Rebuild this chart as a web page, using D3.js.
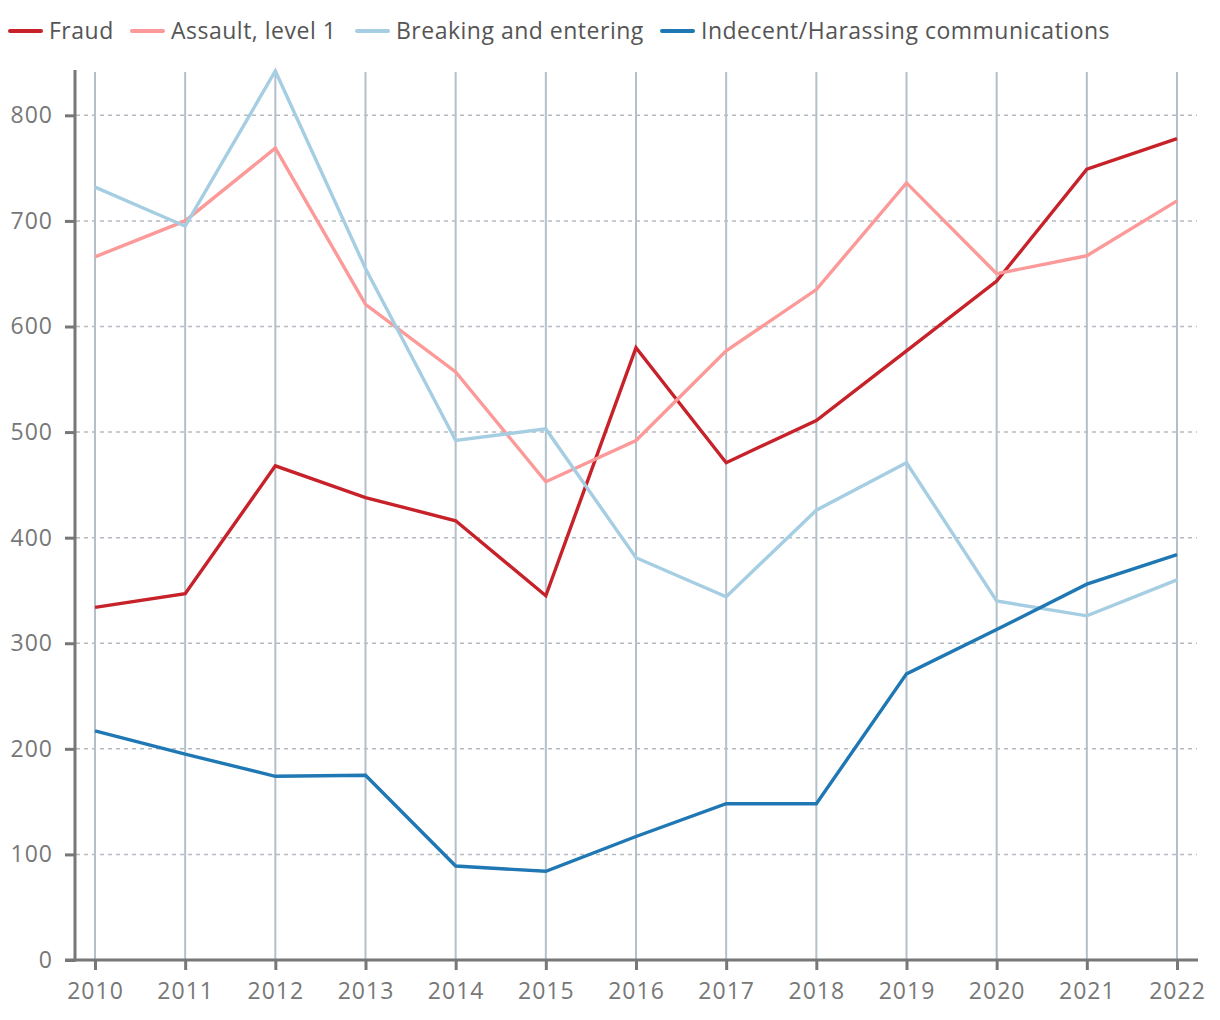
<!DOCTYPE html>
<html>
<head>
<meta charset="utf-8">
<script src="https://cdn.jsdelivr.net/npm/d3@7"></script>
<style>
  body { margin: 0; background: #fff; }
  svg text { font-family: "Open Sans", "Noto Sans", sans-serif; }
</style>
</head>
<body>
<svg id="chart" width="1220" height="1020"></svg>
<script>
// data
const years = [2010, 2011, 2012, 2013, 2014, 2015, 2016, 2017, 2018, 2019, 2020, 2021, 2022];
const seriesNames = ["Fraud", "Assault, level 1", "Breaking and entering", "Indecent/Harassing communications"];
const fraud = [334, 347, 468, 438, 416, 345, 580, 471, 511, 577, 643, 749, 778];
const assault = [666, 700, 769, 621, 557, 453, 492, 577, 635, 736, 650, 667, 719];
const breaking = [732, 695, 842, 655, 492, 503, 381, 344, 426, 471, 340, 326, 360];
const indecent = [217, 195, 174, 175, 89, 84, 117, 148, 148, 271, 313, 356, 384];
const yTicks = [0, 100, 200, 300, 400, 500, 600, 700, 800];

const colors = ["#c7222a", "#fb9a99", "#a6cee3", "#1f78b4"];
const allSeries = [fraud, assault, breaking, indecent];

const svg = d3.select("svg#chart");
const axisColor = "#777";
const gridColor = "#b4c0c9";

// scales
const x = d3.scaleLinear().domain([2010, 2022]).range([95, 1177]);
const y = d3.scaleLinear().domain([0, 842]).range([960, 71]);

// horizontal dashed gridlines
svg.append("g")
    .selectAll("line")
    .data(yTicks.filter(d => d > 0))
    .join("line")
    .attr("x1", 76)
    .attr("x2", 1197)
    .attr("y1", d => y(d))
    .attr("y2", d => y(d))
    .attr("stroke", "#b3bac1")
    .attr("stroke-width", 1.5)
    .attr("stroke-dasharray", "4,4");

// vertical gridlines
svg.append("g")
    .selectAll("line")
    .data(years)
    .join("line")
    .attr("x1", d => x(d))
    .attr("x2", d => x(d))
    .attr("y1", 72)
    .attr("y2", 960)
    .attr("stroke", gridColor)
    .attr("stroke-width", 2);

// lines
const line = d3.line()
    .x((d, i) => x(years[i]))
    .y(d => y(d));

svg.append("g")
    .selectAll("path")
    .data(allSeries)
    .join("path")
    .attr("d", d => line(d))
    .attr("fill", "none")
    .attr("stroke", (d, i) => colors[i])
    .attr("stroke-width", 3.4)
    .attr("stroke-linejoin", "miter");

// y axis
const leftAxis = d3.axisLeft(y).tickValues(yTicks).tickSize(10).tickPadding(12);
const gy = svg.append("g")
    .attr("transform", "translate(75,0)")
    .call(leftAxis);
gy.select(".domain").remove();
gy.selectAll(".tick line").attr("stroke", axisColor).attr("stroke-width", 3);
gy.selectAll(".tick text")
    .attr("fill", axisColor)
    .style("font-size", "23px")
    .style("letter-spacing", "1px");
svg.append("line")
    .attr("x1", 75).attr("x2", 75)
    .attr("y1", 70).attr("y2", 961.5)
    .attr("stroke", axisColor)
    .attr("stroke-width", 3);

// x axis
const bottomAxis = d3.axisBottom(x).tickValues(years).tickFormat(d3.format("d")).tickSize(10).tickPadding(13);
const gx = svg.append("g")
    .attr("transform", "translate(0,960)")
    .call(bottomAxis);
gx.select(".domain").remove();
gx.selectAll(".tick line").attr("stroke", axisColor).attr("stroke-width", 3);
gx.selectAll(".tick text")
    .attr("fill", axisColor)
    .style("font-size", "23px")
    .style("letter-spacing", "1px");
svg.append("line")
    .attr("x1", 65).attr("x2", 1198)
    .attr("y1", 960).attr("y2", 960)
    .attr("stroke", axisColor)
    .attr("stroke-width", 3);

// legend
const legendX = [10, 132, 357, 662];
const legend = svg.append("g");
seriesNames.forEach((name, i) => {
    let item = legend.append("g").attr("transform", `translate(${legendX[i]}, 31)`);
    item.append("line")
        .attr("x1", 0).attr("x2", 31)
        .attr("y1", 0).attr("y2", 0)
        .attr("stroke", colors[i])
        .attr("stroke-width", 4)
        .attr("stroke-linecap", "round");
    item.append("text")
        .text(name)
        .attr("x", 39)
        .attr("y", 0)
        .attr("dy", "0.35em")
        .attr("fill", "#555")
        .style("font-size", "23px")
        .style("letter-spacing", "0.5px");
});
</script>
</body>
</html>
